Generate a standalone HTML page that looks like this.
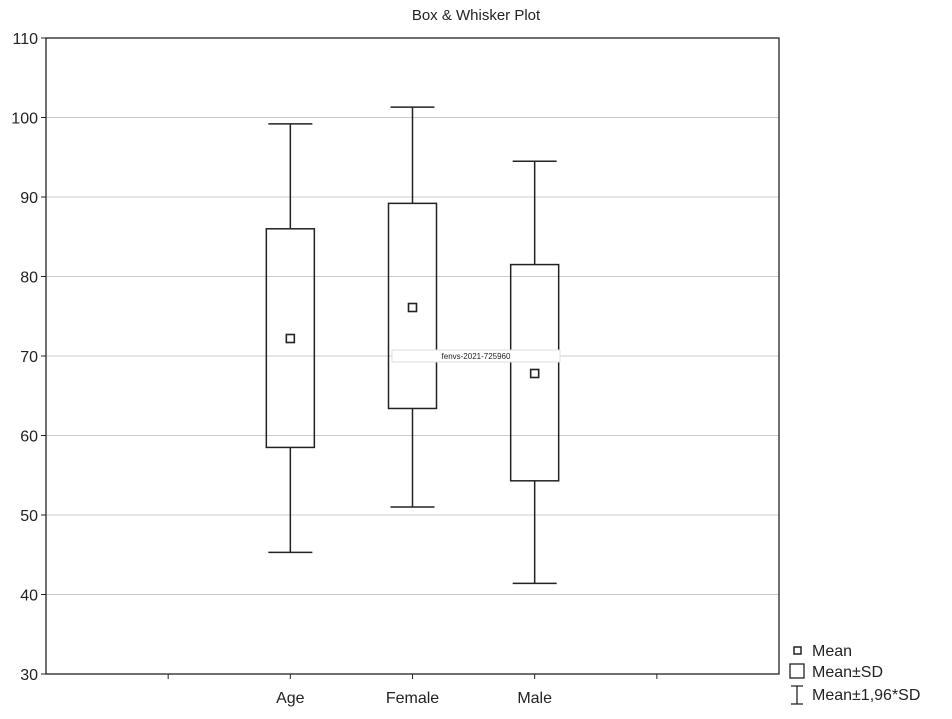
<!DOCTYPE html>
<html><head><meta charset="utf-8"><style>
body{margin:0;background:#fff;}
svg text{font-family:"Liberation Sans",Arial,sans-serif;fill:#222;}
</style></head><body>
<svg width="952" height="714" viewBox="0 0 952 714">
<text x="476" y="20" text-anchor="middle" font-size="15">Box &amp; Whisker Plot</text>
<g id="grid"></g>
<rect x="46" y="38" width="733" height="636" fill="none" stroke="#222" stroke-width="1.3"/>
<g id="yaxis"></g><g id="xaxis"></g><g id="series"></g>
<rect x="392" y="350" width="168" height="12" fill="#fff" stroke="#ddd"/>
<text x="476" y="359" text-anchor="middle" font-size="8">fenvs-2021-725960</text>
<g>
<rect x="794" y="647" width="7" height="7" fill="none" stroke="#222" stroke-width="1.5"/>
<text x="812" y="656" font-size="16">Mean</text>
<rect x="790" y="664" width="14" height="14" fill="none" stroke="#222" stroke-width="1.3"/>
<text x="812" y="677" font-size="16">Mean±SD</text>
<path d="M791 686H803M797 686V704M791 704H803" stroke="#222" stroke-width="1.3" fill="none"/>
<text x="812" y="700" font-size="16">Mean±1,96*SD</text>
</g>
</svg>
<script>
const categories=["Age","Female","Male"];
const means=[72.2,76.1,67.8];
const sdHigh=[86.0,89.2,81.5];
const sdLow=[58.5,63.4,54.3];
const ciHigh=[99.2,101.3,94.5];
const ciLow=[45.3,51.0,41.4];
const yTicks=[30,40,50,60,70,80,90,100,110];
const NS="http://www.w3.org/2000/svg";
const L=46,R=779,T=38,B=674,ymin=30,ymax=110;
const y=v=>B-(v-ymin)/(ymax-ymin)*(B-T);
const slot=(R-L)/(categories.length+3);
const x=i=>L+slot*(i+2);
function mk(tag,attrs,parent){const e=document.createElementNS(NS,tag);for(const k in attrs)e.setAttribute(k,attrs[k]);document.getElementById(parent).appendChild(e);return e;}
yTicks.forEach(t=>{
 if(t>ymin&&t<ymax){const g=mk("line",{x1:L,x2:R,y1:y(t),y2:y(t),stroke:"#ccc","stroke-width":1},"grid");
 
 }
 const tk=mk("line",{x1:L-5,x2:L,y1:y(t),y2:y(t),stroke:"#222"},"yaxis");
 
 
 const tx=mk("text",{x:L-8,y:y(t)+6,"text-anchor":"end","font-size":16},"yaxis");
 tx.textContent=t;
 
 
});
for(let i=-1;i<=categories.length;i++){
 const tk=mk("line",{x1:x(i),x2:x(i),y1:B,y2:B+5,stroke:"#222"},"xaxis");
 
 
}
categories.forEach((c,i)=>{
 const cx=x(i);
 const tx=mk("text",{x:cx,y:B+29,"text-anchor":"middle","font-size":16},"xaxis");
 tx.textContent=c;
 
 
 const w=mk("path",{d:`M${cx-22} ${y(ciHigh[i])}H${cx+22}M${cx} ${y(ciHigh[i])}V${y(sdHigh[i])}M${cx} ${y(sdLow[i])}V${y(ciLow[i])}M${cx-22} ${y(ciLow[i])}H${cx+22}`,stroke:"#222","stroke-width":1.5,fill:"none"},"series");
 
 
 const b=mk("rect",{x:cx-24,y:y(sdHigh[i]),width:48,height:y(sdLow[i])-y(sdHigh[i]),fill:"none",stroke:"#222","stroke-width":1.5},"series");
 
 
 const m=mk("rect",{x:cx-4,y:y(means[i])-4,width:8,height:8,fill:"#fff",stroke:"#222","stroke-width":1.6},"series");
 
 
});
</script>
</body></html>
